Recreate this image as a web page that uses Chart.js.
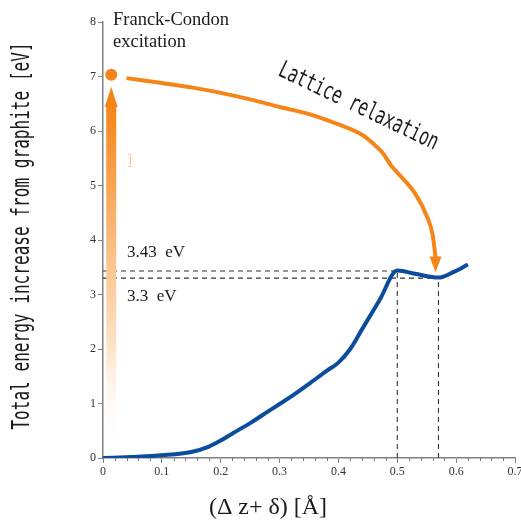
<!DOCTYPE html>
<html>
<head>
<meta charset="utf-8">
<script src="https://cdn.jsdelivr.net/npm/chart.js@4"></script>
<style>html,body{margin:0;padding:0;background:#fff}</style>
</head>
<body>
<canvas id="c" width="521" height="522"></canvas>
<script>
// axis ticks
const xTicks = [0, 0.1, 0.2, 0.3, 0.4, 0.5, 0.6, 0.7];
const xMinorTicks = [0.02, 0.04, 0.06, 0.08, 0.12, 0.14, 0.16, 0.18, 0.22, 0.24, 0.26, 0.28,
  0.32, 0.34, 0.36, 0.38, 0.42, 0.44, 0.46, 0.48, 0.52, 0.54, 0.56, 0.58, 0.62, 0.64, 0.66, 0.68];
const yTicks = [0, 1, 2, 3, 4, 5, 6, 7, 8];

// total energy curve (blue)
const energyX = [0, 0.05, 0.1, 0.15, 0.18, 0.2, 0.22, 0.25, 0.28, 0.3, 0.32, 0.35, 0.38, 0.4, 0.42, 0.44, 0.47, 0.5, 0.53, 0.57, 0.595, 0.62];
const energyY = [0, 0.02, 0.05, 0.11, 0.21, 0.32, 0.45, 0.64, 0.85, 0.99, 1.13, 1.36, 1.6, 1.75, 2.0, 2.36, 2.9, 3.44, 3.38, 3.31, 3.41, 3.55];

// lattice relaxation path (orange)
const relaxX = [0.04, 0.1, 0.15, 0.2, 0.25, 0.3, 0.35, 0.4, 0.44, 0.46, 0.475, 0.49, 0.51, 0.53, 0.55, 0.56, 0.565];
const relaxY = [6.97, 6.88, 6.8, 6.7, 6.58, 6.44, 6.31, 6.12, 5.93, 5.76, 5.6, 5.36, 5.12, 4.86, 4.44, 4.1, 3.68];
const relaxTip = [0.565, 3.41];

// Franck-Condon excitation
const fcX = 0.014;
const fcShaft = [0.15, 6.44];
const fcTip = 6.81;
const fcDot = [0.014, 7.03];

// reference levels
const peakE = 3.43, peakX = 0.5;
const minE = 3.3, minX = 0.57;

const ORANGE = '#f58518';
const BLUE = '#0b4c9c';
const AXIS = '#808080';
const SERIF = '"Liberation Serif", "Times New Roman", serif';
const MONO = '"DejaVu Sans Mono", monospace';

const pts = (xs, ys) => xs.map((x, i) => ({ x, y: ys[i] }));
const dashed = (data) => ({
  data, showLine: true, borderColor: '#333', borderWidth: 1.1,
  borderDash: [5, 4], pointRadius: 0, fill: false,
});

function shaftGradient(context) {
  const chart = context.chart;
  const { ctx, chartArea, scales } = chart;
  if (!chartArea) return ORANGE;
  const y0 = scales.y.getPixelForValue(fcShaft[0]);
  const y1 = scales.y.getPixelForValue(fcShaft[1]);
  const g = ctx.createLinearGradient(0, y0, 0, y1);
  g.addColorStop(0, 'rgba(255,255,255,0)');
  g.addColorStop(0.3, '#fde3c8');
  g.addColorStop(0.55, '#fbc48d');
  g.addColorStop(0.8, '#f8a04b');
  g.addColorStop(1, ORANGE);
  return g;
}

const annotations = {
  id: 'annotations',
  afterDatasetsDraw(chart) {
    const { ctx, scales: { x, y } } = chart;
    ctx.save();
    ctx.fillStyle = ORANGE;
    // arrowhead on excitation arrow
    const ax = x.getPixelForValue(fcX);
    const aBase = y.getPixelForValue(fcShaft[1]);
    const aTip = y.getPixelForValue(fcTip);
    ctx.beginPath();
    ctx.moveTo(ax - 6.5, aBase);
    ctx.lineTo(ax + 6.5, aBase);
    ctx.lineTo(ax, aTip);
    ctx.closePath();
    ctx.fill();
    // arrowhead on relaxation path
    const rx = x.getPixelForValue(relaxTip[0]);
    const rTip = y.getPixelForValue(relaxTip[1]);
    const rBase = y.getPixelForValue(relaxY[relaxY.length - 1]) - 1;
    ctx.beginPath();
    ctx.moveTo(rx - 6, rBase);
    ctx.lineTo(rx + 6, rBase);
    ctx.lineTo(rx, rTip);
    ctx.closePath();
    ctx.fill();
    // faint stray mark beside the arrow
    ctx.strokeStyle = '#fbc48d';
    ctx.lineWidth = 1;
    ctx.beginPath();
    ctx.moveTo(128, 154.5); ctx.lineTo(130.5, 154.5); ctx.lineTo(130.5, 166.5); ctx.lineTo(128, 166.5);
    ctx.stroke();
    ctx.restore();
  },
  afterDraw(chart) {
    const { ctx, scales: { x, y } } = chart;
    ctx.save();
    // minor x ticks
    ctx.strokeStyle = AXIS;
    ctx.lineWidth = 1;
    const axisY = y.getPixelForValue(0);
    xMinorTicks.forEach(v => {
      const px = Math.round(x.getPixelForValue(v)) + 0.5;
      ctx.beginPath();
      ctx.moveTo(px, axisY);
      ctx.lineTo(px, axisY + 3);
      ctx.stroke();
    });

    ctx.fillStyle = '#1a1a1a';
    ctx.textBaseline = 'alphabetic';
    ctx.textAlign = 'left';
    ctx.font = '18.5px ' + SERIF;
    ctx.fillText('Franck-Condon', 113, 25);
    ctx.fillText('excitation', 113, 47);

    ctx.font = '17px ' + SERIF;
    ctx.fillText('3.43  eV', 127, 257);
    ctx.fillText('3.3  eV', 127, 301);

    ctx.textAlign = 'center';
    ctx.font = '24px ' + SERIF;
    ctx.fillText('(\u0394 z+ \u03b4) [\u00c5]', 268, 514);

    // y axis title, condensed
    ctx.save();
    ctx.translate(29, 236);
    ctx.rotate(-Math.PI / 2);
    ctx.scale(0.67, 1);
    ctx.font = '24px ' + MONO;
    ctx.fillText('Total energy increase from graphite [eV]', 0, 0);
    ctx.restore();

    // rotated annotation
    ctx.save();
    ctx.translate(277, 75);
    ctx.rotate(25.5 * Math.PI / 180);
    ctx.scale(0.67, 1);
    ctx.textAlign = 'left';
    ctx.font = '24px ' + MONO;
    ctx.fillText('Lattice relaxation', 0, 0);
    ctx.restore();

    ctx.restore();
  }
};

new Chart(document.getElementById('c'), {
  type: 'scatter',
  data: {
    datasets: [
      {
        data: pts(energyX, energyY), showLine: true, borderColor: BLUE,
        borderWidth: 4, pointRadius: 0, cubicInterpolationMode: 'monotone',
      },
      {
        data: pts(relaxX, relaxY), showLine: true, borderColor: ORANGE,
        borderWidth: 4, pointRadius: 0, cubicInterpolationMode: 'monotone',
      },
      {
        data: [{ x: fcDot[0], y: fcDot[1] }], showLine: false,
        pointRadius: 6, pointBackgroundColor: ORANGE, pointBorderWidth: 0,
      },
      {
        data: [{ x: fcX, y: fcShaft[0] }, { x: fcX, y: fcShaft[1] }], showLine: true,
        borderColor: shaftGradient, borderWidth: 10, borderCapStyle: 'butt', pointRadius: 0,
      },
      dashed([{ x: 0, y: peakE }, { x: peakX, y: peakE }]),
      dashed([{ x: 0, y: minE }, { x: minX, y: minE }]),
      dashed([{ x: peakX, y: 0 }, { x: peakX, y: peakE }]),
      dashed([{ x: minX, y: 0 }, { x: minX, y: minE }]),
    ],
  },
  options: {
    responsive: false,
    animation: false,
    layout: { padding: { top: 22, right: 5, left: 0, bottom: 0 } },
    plugins: { legend: { display: false }, tooltip: { enabled: false } },
    scales: {
      x: {
        type: 'linear', min: 0, max: 0.7,
        afterBuildTicks: s => { s.ticks = xTicks.map(v => ({ value: v })); },
        afterFit: s => { s.height = 64; s.paddingLeft = 0; s.paddingRight = 0; },
        ticks: { color: '#333', font: { family: SERIF, size: 12 }, padding: 2, maxRotation: 0,
                 callback: v => String(v) },
        grid: { drawOnChartArea: false, drawTicks: true, tickLength: 5, color: AXIS },
        border: { display: true, color: AXIS, width: 1.5 },
      },
      y: {
        type: 'linear', min: 0, max: 8,
        afterBuildTicks: s => { s.ticks = yTicks.map(v => ({ value: v })); },
        afterFit: s => { s.width = 103; },
        ticks: { color: '#333', font: { family: SERIF, size: 12 }, padding: 2,
                 callback: v => String(v) },
        grid: { drawOnChartArea: false, drawTicks: true, tickLength: 5, color: AXIS },
        border: { display: true, color: AXIS, width: 1.5 },
      },
    },
  },
  plugins: [annotations],
});
</script>
</body>
</html>
